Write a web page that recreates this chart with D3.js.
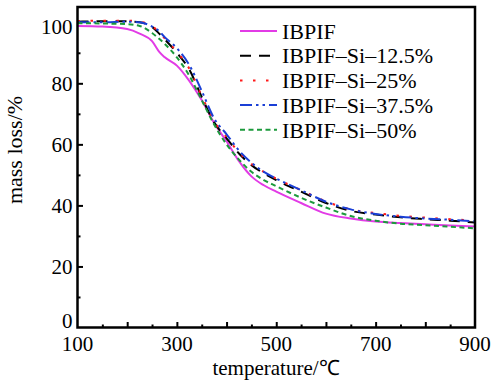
<!DOCTYPE html>
<html>
<head>
<meta charset="utf-8">
<script src="https://cdn.jsdelivr.net/npm/d3@7"></script>
</head>
<body style="margin:0">
<svg id="chart" width="493" height="384"></svg>
<script>
// temperature (°C) and mass remaining (%)
var temps = [100, 150, 200, 225, 250, 265, 275, 300, 325, 350, 375, 400, 425, 450, 475, 500, 550, 600, 650, 700, 750, 800, 850, 900];
var ibpif = [98.8, 98.6, 97.8, 96.3, 93.8, 90.2, 88.6, 85.8, 80.8, 74.5, 67.0, 61.0, 54.5, 49.5, 46.6, 44.5, 40.8, 37.3, 35.7, 34.7, 34.2, 33.8, 33.4, 33.1];
var si125 = [100.2, 100.3, 100.3, 100.0, 98.5, 96.2, 94.5, 90.0, 84.5, 75.5, 67.2, 62.0, 57.0, 53.2, 50.5, 48.3, 44.5, 40.8, 38.2, 37.0, 36.1, 35.5, 35.0, 34.4];
var si25 = [100.4, 100.5, 100.5, 100.2, 98.8, 96.5, 94.8, 90.3, 84.8, 75.8, 67.6, 62.4, 57.4, 53.6, 51.0, 48.8, 45.0, 41.3, 38.7, 37.5, 36.6, 36.0, 35.5, 35.0];
var si375 = [100.0, 100.0, 100.2, 100.0, 98.6, 97.0, 95.2, 91.5, 86.0, 77.5, 68.5, 63.3, 58.0, 54.0, 51.0, 48.8, 45.0, 41.2, 38.7, 37.2, 36.3, 35.7, 35.3, 34.8];
var si50 = [99.7, 99.6, 99.4, 98.8, 96.5, 94.5, 93.0, 88.5, 82.5, 74.5, 66.5, 60.0, 55.0, 51.0, 48.3, 46.3, 42.5, 39.3, 36.5, 35.0, 34.0, 33.5, 33.0, 32.5];

var seriesNames = ["IBPIF", "IBPIF\u2013Si\u201312.5%", "IBPIF\u2013Si\u201325%", "IBPIF\u2013Si\u201337.5%", "IBPIF\u2013Si\u201350%"];
var seriesValues = [ibpif, si125, si25, si375, si50];
var colors = ["#e23be6", "#000000", "#ff1a1a", "#1a3fd6", "#1c9a3c"];
var dashes = [null, "11,8", "2.5,10.5", "12,4,2.5,4,2.5,4", "5,3.5"];
var xTicks = [100, 300, 500, 700, 900];
var yTicks = [0, 20, 40, 60, 80, 100];

var serif = "'Liberation Serif'";
var plotLeft = 77.5, plotRight = 475, plotTop = 7, plotBottom = 327.5;
var svg = d3.select("#chart");

var x = d3.scaleLinear().domain([100, 900]).range([plotLeft, plotRight]);
var y = d3.scaleLinear().domain([0, 105]).range([plotBottom, plotTop]);

var line = d3.line()
  .x(function (d) { return x(d[0]); })
  .y(function (d) { return y(d[1]); })
  .curve(d3.curveMonotoneX);

var plot = svg.append("g");
seriesValues.forEach(function (vals, i) {
  plot.append("path")
    .datum(temps.map(function (t, j) { return [t, vals[j]]; }))
    .attr("fill", "none")
    .attr("stroke", colors[i])
    .attr("stroke-width", 2)
    .attr("stroke-dasharray", dashes[i])
    .attr("d", line);
});

// inward ticks, major and minor
var gx = svg.append("g").attr("transform", "translate(0," + plotBottom + ")");
gx.append("g").call(d3.axisBottom(x).tickValues(d3.range(150, 900, 100)).tickSize(-3).tickFormat(""));
gx.append("g").call(d3.axisBottom(x).tickValues(d3.range(200, 900, 100)).tickSize(-5.5).tickFormat(""));
var gy = svg.append("g").attr("transform", "translate(" + plotLeft + ",0)");
gy.append("g").call(d3.axisLeft(y).tickValues(d3.range(10, 105, 20)).tickSize(-3).tickFormat(""));
gy.append("g").call(d3.axisLeft(y).tickValues(d3.range(20, 100, 20)).tickSize(-5.5).tickFormat(""));
svg.selectAll(".domain").remove();
svg.selectAll(".tick line").attr("stroke", "#000").attr("stroke-width", 2);

svg.append("rect")
  .attr("x", plotLeft).attr("y", plotTop)
  .attr("width", plotRight - plotLeft).attr("height", plotBottom - plotTop)
  .attr("fill", "none").attr("stroke", "#000").attr("stroke-width", 2.5);

// tick labels
svg.selectAll(".xlab").data(xTicks).enter().append("text")
  .attr("class", "xlab")
  .attr("x", function (d) { return x(d); })
  .attr("y", 351)
  .attr("text-anchor", "middle")
  .style("font-family", serif)
  .style("font-size", "21px")
  .text(function (d) { return d; });

svg.selectAll(".ylab").data(yTicks).enter().append("text")
  .attr("class", "ylab")
  .attr("x", plotLeft - 5)
  .attr("y", function (d) {
    if (d === 100) return y(d) + 4;
    if (d === 0) return y(d) - 6.5;
    return y(d);
  })
  .attr("dy", "0.35em")
  .attr("text-anchor", "end")
  .style("font-family", serif)
  .style("font-size", "21px")
  .text(function (d) { return d; });

// axis titles
svg.append("text")
  .attr("x", 276).attr("y", 375)
  .attr("text-anchor", "middle")
  .style("font-family", serif)
  .style("font-size", "21px")
  .text("temperature/\u2103");

svg.append("text")
  .attr("transform", "translate(22,150) rotate(-90)")
  .attr("text-anchor", "middle")
  .style("font-family", serif)
  .style("font-size", "22px")
  .text("mass loss/%");

// legend
var legend = svg.append("g");
seriesNames.forEach(function (name, i) {
  var ly = 31 + i * 24.7;
  legend.append("line")
    .attr("x1", 240).attr("x2", 277)
    .attr("y1", ly).attr("y2", ly)
    .attr("stroke", colors[i])
    .attr("stroke-width", 2)
    .attr("stroke-dasharray", dashes[i]);
  legend.append("text")
    .attr("x", 282).attr("y", ly)
    .attr("dy", "0.35em")
    .style("font-family", serif)
    .style("font-size", "22px")
    .text(name);
});
</script>
</body>
</html>
